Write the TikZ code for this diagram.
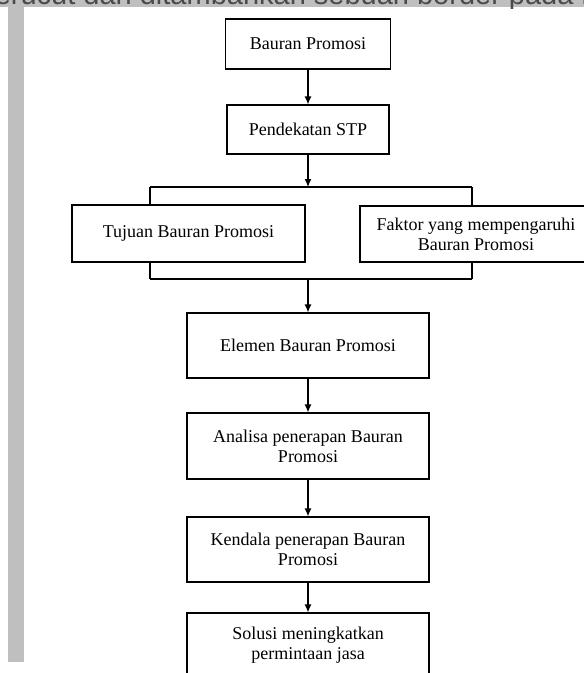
\documentclass[tikz,border=0pt]{standalone}
\usepackage{fontspec}
\setmainfont{Liberation Serif}
\newfontfamily\hdfont{Liberation Sans}
\usetikzlibrary{arrows.meta}
\definecolor{pagegray}{HTML}{BFBFBF}
\definecolor{inkgray}{HTML}{4A4A4A}
\tikzset{
	box/.style={draw, line width=1.2pt, align=center, inner sep=0pt},
	arr/.style={-{Latex[length=8pt,width=7pt]}, line width=1.2pt},
	link/.style={line width=1.2pt}
}

\begin{document}
\begin{tikzpicture}[x=1pt,y=-1pt,font=\fontsize{18}{20}\selectfont]
		\useasboundingbox (0,0) rectangle (584,673);
		\fill[pagegray] (0,0) rectangle (584,7);
		\fill[pagegray] (8,0) rectangle (24,662);
		\begin{scope}
			\clip (0,0) rectangle (584,8);
			\node[inkgray, anchor=base east, inner sep=0pt, font=\hdfont\fontsize{29}{30}\selectfont] (head) at (598,4) {bentuk kerucut dan ditambahkan sebuah border pada h};
		\end{scope}
		
		\node[box, minimum width=165, minimum height=50] (bauran) at (308,44) {Bauran Promosi};
		\node[box, minimum width=162, minimum height=49] (stp) at (308,129.5) {Pendekatan STP};
		\node[box, minimum width=233, minimum height=57] (tujuan) at (188.5,233.5) {Tujuan Bauran Promosi};
		\node[box, minimum width=232, minimum height=56] (faktor) at (476,234) {Faktor yang mempengaruhi\\Bauran Promosi};
		\node[box, minimum width=242, minimum height=65] (elemen) at (308,345.5) {Elemen Bauran Promosi};
		\node[box, minimum width=242, minimum height=66] (analisa) at (308,446) {Analisa penerapan Bauran\\Promosi};
		\node[box, minimum width=242, minimum height=65] (kendala) at (308,549.5) {Kendala penerapan Bauran\\Promosi};
		\node[box, minimum width=242, minimum height=64] (solusi) at (308,645) {Solusi meningkatkan\\permintaan jasa};
		
		\coordinate (split) at (308,187);
		\coordinate (merge) at (308,279);
		\coordinate (tl) at (150,187);
		\coordinate (tr) at (472,187);
		\coordinate (bl) at (150,279);
		\coordinate (br) at (472,279);
		
		\draw[arr] (bauran) -- (stp);
		\draw[arr] (stp) -- (split);
		\draw[link] (tl) -- (tr);
		\draw[link] (tl) -- (tl |- tujuan.north);
		\draw[link] (tr) -- (tr |- faktor.north);
		\draw[link] (tl |- tujuan.south) -- (bl);
		\draw[link] (tr |- faktor.south) -- (br);
		\draw[link] (bl) -- (br);
		\draw[arr] (merge) -- (elemen);
		\draw[arr] (elemen) -- (analisa);
		\draw[arr] (analisa) -- (kendala);
		\draw[arr] (kendala) -- (solusi);
	\end{tikzpicture}
\end{document}
